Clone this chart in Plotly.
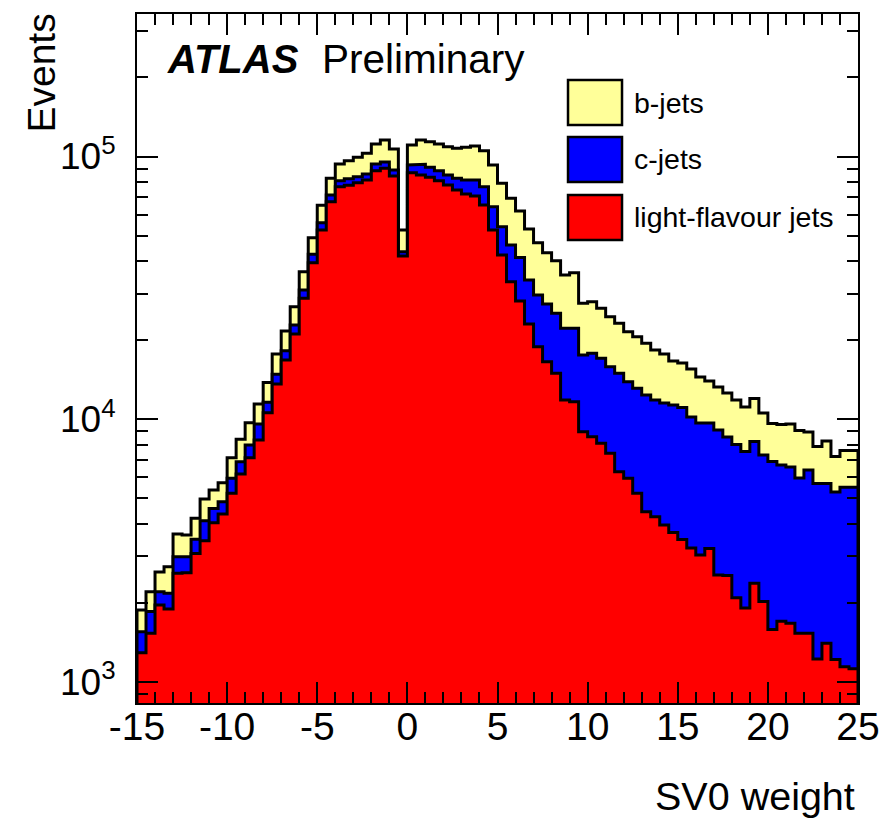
import numpy as np
import plotly.graph_objects as go

# SV0 weight histogram: 80 bins of width 0.5 from -15 to 25
x_min, x_max, n_bins = -15.0, 25.0, 80

# Per-flavour event counts per bin
light_jets = [
    1290, 1530, 1960, 1890, 2590, 2600, 3080, 3440, 4030, 4350,
    5220, 6180, 7130, 8330, 10580, 13600, 16790, 21090, 28840, 39410,
    52500, 67300, 76700, 77700, 79500, 81400, 88300, 90200, 84300, 41800,
    86800, 85000, 83300, 80850, 77900, 74600, 72000, 70700, 65350, 52500,
    42160, 33370, 28170, 23020, 18870, 16540, 14940, 11820, 11650, 8950,
    8570, 8090, 7410, 6300, 5950, 5220, 4440, 4250, 3950, 3700,
    3480, 3230, 3040, 3215, 2550, 2540, 2090, 1910, 2370, 2020,
    1580, 1700, 1670, 1530, 1530, 1220, 1400, 1215, 1140, 1120,
]
c_jets = [
    260, 320, 240, 280, 400, 390, 410, 660, 540, 500,
    730, 700, 840, 1255, 1010, 1210, 1430, 1730, 2170, 3010,
    3460, 4050, 4150, 4600, 4300, 4400, 5300, 5100, 4500, 1600,
    6000, 8400, 7700, 7450, 7100, 8000, 9400, 10700, 11350, 11900,
    11880, 12660, 13080, 10840, 10820, 10900, 10340, 10350, 10520, 8590,
    9240, 8950, 8420, 8640, 7930, 7880, 7920, 7570, 7570, 7620,
    7590, 6960, 6620, 6450, 6540, 6010, 5910, 5610, 5850, 5280,
    5310, 4985, 4900, 4436, 4870, 4466, 4286, 4063, 4360, 4380,
]
b_jets = [
    325, 350, 420, 570, 660, 630, 700, 860, 796, 877,
    1178, 1494, 1723, 1830, 2210, 2890, 3430, 3970, 5400, 6650,
    9240, 11250, 12750, 14100, 15500, 17000, 18000, 20300, 18000, 9100,
    17800, 22200, 22900, 23300, 24000, 24900, 27000, 28200, 28500, 28400,
    25060, 23270, 20750, 19100, 17270, 15580, 14830, 13210, 13940, 10070,
    10190, 9380, 8720, 8230, 7640, 7500, 7080, 6510, 6180, 5320,
    5280, 5320, 4800, 4310, 4160, 4020, 3820, 3600, 3760, 3250,
    2730, 2850, 3010, 3085, 2530, 2180, 2570, 1930, 2090, 2090,
]

series_names = ["b-jets", "c-jets", "light-flavour jets"]
series_colors = ["#ffff99", "#0000ff", "#ff0000"]

# Axis ticks and labels
x_tick_values = [-15, -10, -5, 0, 5, 10, 15, 20, 25]
x_tick_labels = ["-15", "-10", "-5", "0", "5", "10", "15", "20", "25"]
y_tick_values = [1e3, 1e4, 1e5]
y_tick_labels = ["10<sup>3</sup>", "10<sup>4</sup>", "10<sup>5</sup>"]

y_range_log = [2.919, 5.5426]
font_family = "Liberation Sans, Arial, Helvetica, sans-serif"

edges = np.linspace(x_min, x_max, n_bins + 1)
light = np.array(light_jets, dtype=float)
light_c = light + np.array(c_jets, dtype=float)
total = light_c + np.array(b_jets, dtype=float)


def step_polygon(values, base=1.0):
    """Closed step outline of a histogram, down to a baseline below the axis."""
    xs = np.repeat(edges, 2)[1:-1]
    ys = np.repeat(values, 2)
    xs = np.concatenate([[edges[0]], xs, [edges[-1]]])
    ys = np.concatenate([[base], ys, [base]])
    return xs, ys


fig = go.Figure()

# THStack-style drawing: the full stack first, then each lower layer on top
for values, name, color in zip([total, light_c, light], series_names, series_colors):
    xs, ys = step_polygon(values)
    fig.add_trace(go.Scatter(
        x=xs, y=ys, mode="lines", fill="toself", fillcolor=color,
        line=dict(color="black", width=3), name=name, showlegend=False,
        hoverinfo="skip",
    ))

axis_common = dict(
    showline=True, linecolor="black", linewidth=2, mirror="allticks",
    ticks="inside", tickcolor="black", tickwidth=1.5, showgrid=False,
    zeroline=False,
)

fig.update_xaxes(
    range=[x_min, x_max], tickmode="array",
    tickvals=x_tick_values, ticktext=x_tick_labels, ticklen=21,
    minor=dict(ticks="inside", dtick=1, tick0=0, ticklen=11,
               tickcolor="black", tickwidth=1.5),
    tickfont=dict(family=font_family, size=39, color="black"),
    ticklabelstandoff=-12,
    **axis_common,
)
fig.update_yaxes(
    type="log", range=y_range_log, tickmode="array",
    tickvals=y_tick_values, ticktext=y_tick_labels, ticklen=21,
    minor=dict(ticks="inside", ticklen=11, tickcolor="black", tickwidth=1.5, dtick="D1"),
    tickfont=dict(family=font_family, size=37, color="black"),
    ticklabelstandoff=12,
    **axis_common,
)

# Legend: filled boxes with black borders and labels
legend_rows = [(0.9042, 0.8389), (0.8215, 0.7562), (0.7373, 0.6720)]
for (y_top, y_bot), name, color in zip(legend_rows, series_names, series_colors):
    fig.add_shape(type="rect", xref="paper", yref="paper",
                  x0=0.5978, x1=0.6727, y0=y_bot, y1=y_top,
                  fillcolor=color, line=dict(color="black", width=2.5))
    fig.add_annotation(text=name, xref="paper", yref="paper",
                       x=0.6866, y=(y_top + y_bot) / 2, xanchor="left", yanchor="middle",
                       showarrow=False, font=dict(family=font_family, size=28.5, color="black"))

fig.add_annotation(text="<b><i>ATLAS</i></b>", xref="paper", yref="paper",
                   x=0.0395, y=0.9347, xanchor="left", yanchor="middle", showarrow=False,
                   font=dict(family=font_family, size=40, color="black"))
fig.add_annotation(text="Preliminary", xref="paper", yref="paper",
                   x=0.2545, y=0.9347, xanchor="left", yanchor="middle", showarrow=False,
                   font=dict(family=font_family, size=40.5, color="black"))

# Axis titles, right/top aligned
fig.add_annotation(text="Events", xref="paper", yref="paper", textangle=-90,
                   x=-0.1331, y=1.0029, xanchor="center", yanchor="top", showarrow=False,
                   font=dict(family=font_family, size=39, color="black"))
fig.add_annotation(text="SV0 weight", xref="paper", yref="paper",
                   x=0.9986, y=-0.1350, xanchor="right", yanchor="middle", showarrow=False,
                   font=dict(family=font_family, size=39.5, color="black"))

fig.update_layout(
    width=894, height=820,
    margin=dict(l=137, r=36, t=14, b=117),
    paper_bgcolor="white", plot_bgcolor="white",
    showlegend=False,
)

fig.write_html("out.html")
